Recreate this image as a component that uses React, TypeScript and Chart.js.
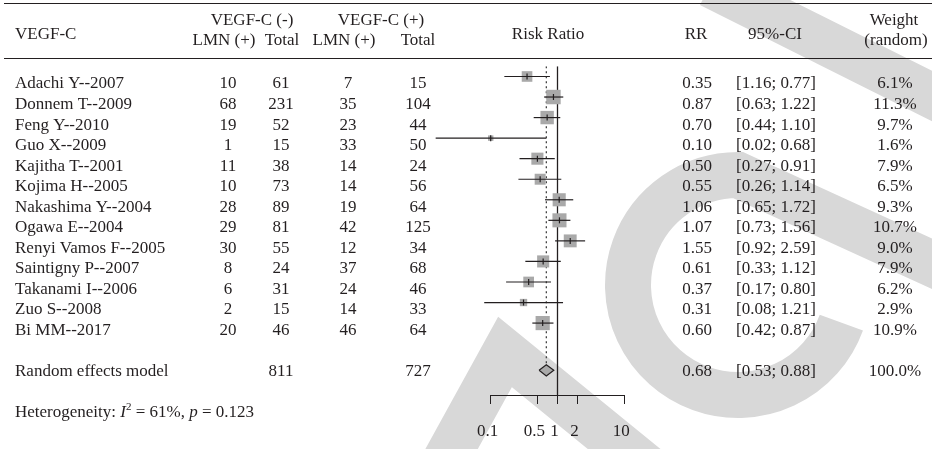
import React, { useEffect, useRef } from 'react';
import { Chart, registerables } from 'chart.js';

Chart.register(...registerables);

// ---------- data ----------
const studies = [
  'Adachi Y--2007',
  'Donnem T--2009',
  'Feng Y--2010',
  'Guo X--2009',
  'Kajitha T--2001',
  'Kojima H--2005',
  'Nakashima Y--2004',
  'Ogawa E--2004',
  'Renyi Vamos F--2005',
  'Saintigny P--2007',
  'Takanami I--2006',
  'Zuo S--2008',
  'Bi MM--2017',
];
const negEvents = [10, 68, 19, 1, 11, 10, 28, 29, 30, 8, 6, 2, 20];
const negTotal = [61, 231, 52, 15, 38, 73, 89, 81, 55, 24, 31, 15, 46];
const posEvents = [7, 35, 23, 33, 14, 14, 19, 42, 12, 37, 24, 14, 46];
const posTotal = [15, 104, 44, 50, 24, 56, 64, 125, 34, 68, 46, 33, 64];
const rr = [0.35, 0.87, 0.7, 0.1, 0.5, 0.55, 1.06, 1.07, 1.55, 0.61, 0.37, 0.31, 0.6];
// CI ends as drawn in the plot
const ciLow = [0.16, 0.63, 0.44, 0.015, 0.27, 0.26, 0.65, 0.73, 0.92, 0.33, 0.17, 0.08, 0.42];
const ciHigh = [0.77, 1.22, 1.1, 0.68, 0.91, 1.14, 1.72, 1.56, 2.59, 1.12, 0.8, 1.21, 0.87];
// CI as printed in the table
const ciText = [
  '[1.16; 0.77]',
  '[0.63; 1.22]',
  '[0.44; 1.10]',
  '[0.02; 0.68]',
  '[0.27; 0.91]',
  '[0.26; 1.14]',
  '[0.65; 1.72]',
  '[0.73; 1.56]',
  '[0.92; 2.59]',
  '[0.33; 1.12]',
  '[0.17; 0.80]',
  '[0.08; 1.21]',
  '[0.42; 0.87]',
];
const weights = [6.1, 11.3, 9.7, 1.6, 7.9, 6.5, 9.3, 10.7, 9.0, 7.9, 6.2, 2.9, 10.9];

const pooledLabel = 'Random effects model';
const pooledRR = 0.68;
const pooledLo = 0.53;
const pooledHi = 0.88;
const pooledRow = 14.3;
const pooledNegTotal = 811;
const pooledPosTotal = 727;
const pooledWeight = '100.0%';
const hetI2 = '61%';
const hetP = '0.123';

const tickValues = [0.1, 0.5, 1, 2, 10];
const tickLabels = ['0.1', '0.5', '1', '2', '10'];

// ---------- style ----------
const FONT = '"Liberation Serif", "Times New Roman", serif';
const FS = 17;
const TXT = '#231f20';
const GRAY = '#a9a9a9';
const WATERMARK = '#d8d8d8';
const SQUARE_K = 4.3;
const DIAMOND_HALF = 0.27;
const TEXT_DY = 7.5;

// faint background watermark of the source page
const watermarkPlugin = {
  id: 'watermark',
  beforeDraw(chart: any) {
    const ctx = chart.ctx as CanvasRenderingContext2D;
    ctx.save();
    ctx.strokeStyle = WATERMARK;
    ctx.lineCap = 'butt';
    ctx.lineJoin = 'miter';
    // "C"
    ctx.lineWidth = 46;
    ctx.beginPath();
    ctx.arc(738, 285, 110, (20 * Math.PI) / 180, (270 * Math.PI) / 180, false);
    ctx.lineTo(950, 272);
    ctx.stroke();
    // top-right band
    ctx.lineWidth = 45;
    ctx.beginPath();
    ctx.moveTo(710, -15);
    ctx.lineTo(950, 105);
    ctx.stroke();
    // bottom chevron
    ctx.lineWidth = 46;
    ctx.beginPath();
    ctx.moveTo(440, 470);
    ctx.lineTo(505, 352);
    ctx.lineTo(650, 470);
    ctx.stroke();
    ctx.restore();
  },
};

const tablePlugin = {
  id: 'forestTable',
  afterDraw(chart: any) {
    const ctx = chart.ctx as CanvasRenderingContext2D;
    const y = chart.scales.y;
    ctx.save();
    ctx.fillStyle = TXT;
    ctx.strokeStyle = TXT;
    ctx.lineWidth = 1;
    ctx.beginPath();
    ctx.moveTo(4, 3.5);
    ctx.lineTo(932, 3.5);
    ctx.moveTo(4, 58.5);
    ctx.lineTo(932, 58.5);
    ctx.stroke();

    ctx.font = `${FS}px ${FONT}`;
    ctx.textBaseline = 'middle';
    const put = (t: string, x: number, yy: number, align: CanvasTextAlign) => {
      ctx.textAlign = align;
      ctx.fillText(t, x, yy);
    };

    // header
    put('VEGF-C', 15, 35, 'left');
    put('VEGF-C (-)', 252, 21, 'center');
    put('LMN (+)', 224, 41, 'center');
    put('Total', 282, 41, 'center');
    put('VEGF-C (+)', 381, 21, 'center');
    put('LMN (+)', 344, 41, 'center');
    put('Total', 418, 41, 'center');
    put('Risk Ratio', 548, 35, 'center');
    put('RR', 696, 35, 'center');
    put('95%-CI', 775, 35, 'center');
    put('Weight', 894, 21, 'center');
    put('(random)', 896, 41, 'center');

    const textY = (row: number) => y.getPixelForValue(row) + TEXT_DY;
    studies.forEach((s, i) => {
      const ty = textY(i);
      put(s, 15, ty, 'left');
      put(String(negEvents[i]), 228, ty, 'center');
      put(String(negTotal[i]), 281, ty, 'center');
      put(String(posEvents[i]), 348, ty, 'center');
      put(String(posTotal[i]), 418, ty, 'center');
      put(rr[i].toFixed(2), 697, ty, 'center');
      put(ciText[i], 776, ty, 'center');
      put(weights[i].toFixed(1) + '%', 895, ty, 'center');
    });

    const py = textY(14);
    put(pooledLabel, 15, py, 'left');
    put(String(pooledNegTotal), 281, py, 'center');
    put(String(pooledPosTotal), 418, py, 'center');
    put(pooledRR.toFixed(2), 697, py, 'center');
    put(`[${pooledLo.toFixed(2)}; ${pooledHi.toFixed(2)}]`, 776, py, 'center');
    put(pooledWeight, 895, py, 'center');

    // heterogeneity
    const hy = 413;
    let x = 15;
    ctx.textAlign = 'left';
    const seg = (t: string, font: string, dy = 0) => {
      ctx.font = font;
      ctx.fillText(t, x, hy + dy);
      x += ctx.measureText(t).width;
    };
    const normal = `${FS}px ${FONT}`;
    const italic = `italic ${FS}px ${FONT}`;
    seg('Heterogeneity: ', normal);
    seg('I', italic);
    seg('2', `11px ${FONT}`, -6);
    seg(` = ${hetI2}, `, normal);
    seg('p', italic);
    seg(` = ${hetP}`, normal);
    ctx.restore();
  },
};

export default function App() {
  const ref = useRef<HTMLCanvasElement | null>(null);
  useEffect(() => {
    const canvas = ref.current;
    if (!canvas) return;
    const pts = rr.map((v, i) => ({ x: v, y: i }));
    const ciSets = studies.map((_, i) => ({
      type: 'line',
      data: [
        { x: ciLow[i], y: i },
        { x: ciHigh[i], y: i },
      ],
      borderColor: TXT,
      borderWidth: 1.2,
      pointRadius: 0,
      fill: false,
      clip: false,
      order: 2,
    }));
    const datasets: any[] = [
      {
        type: 'scatter',
        data: pts,
        pointStyle: 'rect',
        pointRadius: weights.map((w) => (SQUARE_K * Math.sqrt(w)) / Math.SQRT2),
        pointBackgroundColor: GRAY,
        pointBorderWidth: 0,
        clip: false,
        order: 3,
      },
      ...ciSets,
      {
        type: 'scatter',
        data: pts,
        pointStyle: 'line',
        pointRotation: 90,
        pointRadius: 3,
        pointBorderColor: TXT,
        pointBorderWidth: 1.2,
        clip: false,
        order: 1,
      },
      {
        type: 'line',
        data: [
          { x: 1, y: -0.5 },
          { x: 1, y: 15.5 },
        ],
        borderColor: TXT,
        borderWidth: 1.3,
        pointRadius: 0,
        fill: false,
        order: 4,
      },
      {
        type: 'line',
        data: [
          { x: pooledRR, y: -0.5 },
          { x: pooledRR, y: pooledRow - DIAMOND_HALF },
        ],
        borderColor: '#333333',
        borderWidth: 1.2,
        borderDash: [2, 3],
        pointRadius: 0,
        fill: false,
        order: 5,
      },
      {
        type: 'scatter',
        showLine: true,
        data: [
          { x: pooledLo, y: pooledRow },
          { x: pooledRR, y: pooledRow - DIAMOND_HALF },
          { x: pooledHi, y: pooledRow },
          { x: pooledRR, y: pooledRow + DIAMOND_HALF },
          { x: pooledLo, y: pooledRow },
        ],
        fill: 'shape',
        backgroundColor: GRAY,
        borderColor: TXT,
        borderWidth: 1.2,
        pointRadius: 0,
        clip: false,
        order: 0,
      },
    ];

    const chart = new Chart(canvas, {
      type: 'scatter',
      data: { datasets },
      options: {
        animation: false,
        responsive: false,
        maintainAspectRatio: false,
        events: [],
        layout: { padding: { left: 490.7, right: 307.7, top: 66.2, bottom: 0 } },
        plugins: { legend: { display: false }, tooltip: { enabled: false } },
        scales: {
          x: {
            type: 'logarithmic',
            min: 0.1,
            max: 10,
            position: 'bottom',
            afterBuildTicks: (s: any) => {
              s.ticks = tickValues.map((v) => ({ value: v }));
            },
            ticks: {
              autoSkip: false,
              maxRotation: 0,
              minRotation: 0,
              padding: 17.8,
              labelOffset: -3,
              color: TXT,
              font: { family: FONT, size: FS },
              callback: (_v: any, i: number) => tickLabels[i],
            },
            grid: { drawOnChartArea: false, drawTicks: true, tickLength: 9, color: TXT, lineWidth: 1 },
            border: { display: true, color: TXT, width: 1 },
          },
          y: { type: 'linear', min: -0.5, max: 15.5, reverse: true, display: false },
        },
      } as any,
      plugins: [watermarkPlugin, tablePlugin],
    } as any);
    return () => chart.destroy();
  }, []);

  return (
    <div style={{ position: 'fixed', left: 0, top: 0, width: 932, height: 460, background: '#fff' }}>
      <canvas ref={ref} width={932} height={460} style={{ display: 'block', width: 932, height: 460 }} />
    </div>
  );
}
